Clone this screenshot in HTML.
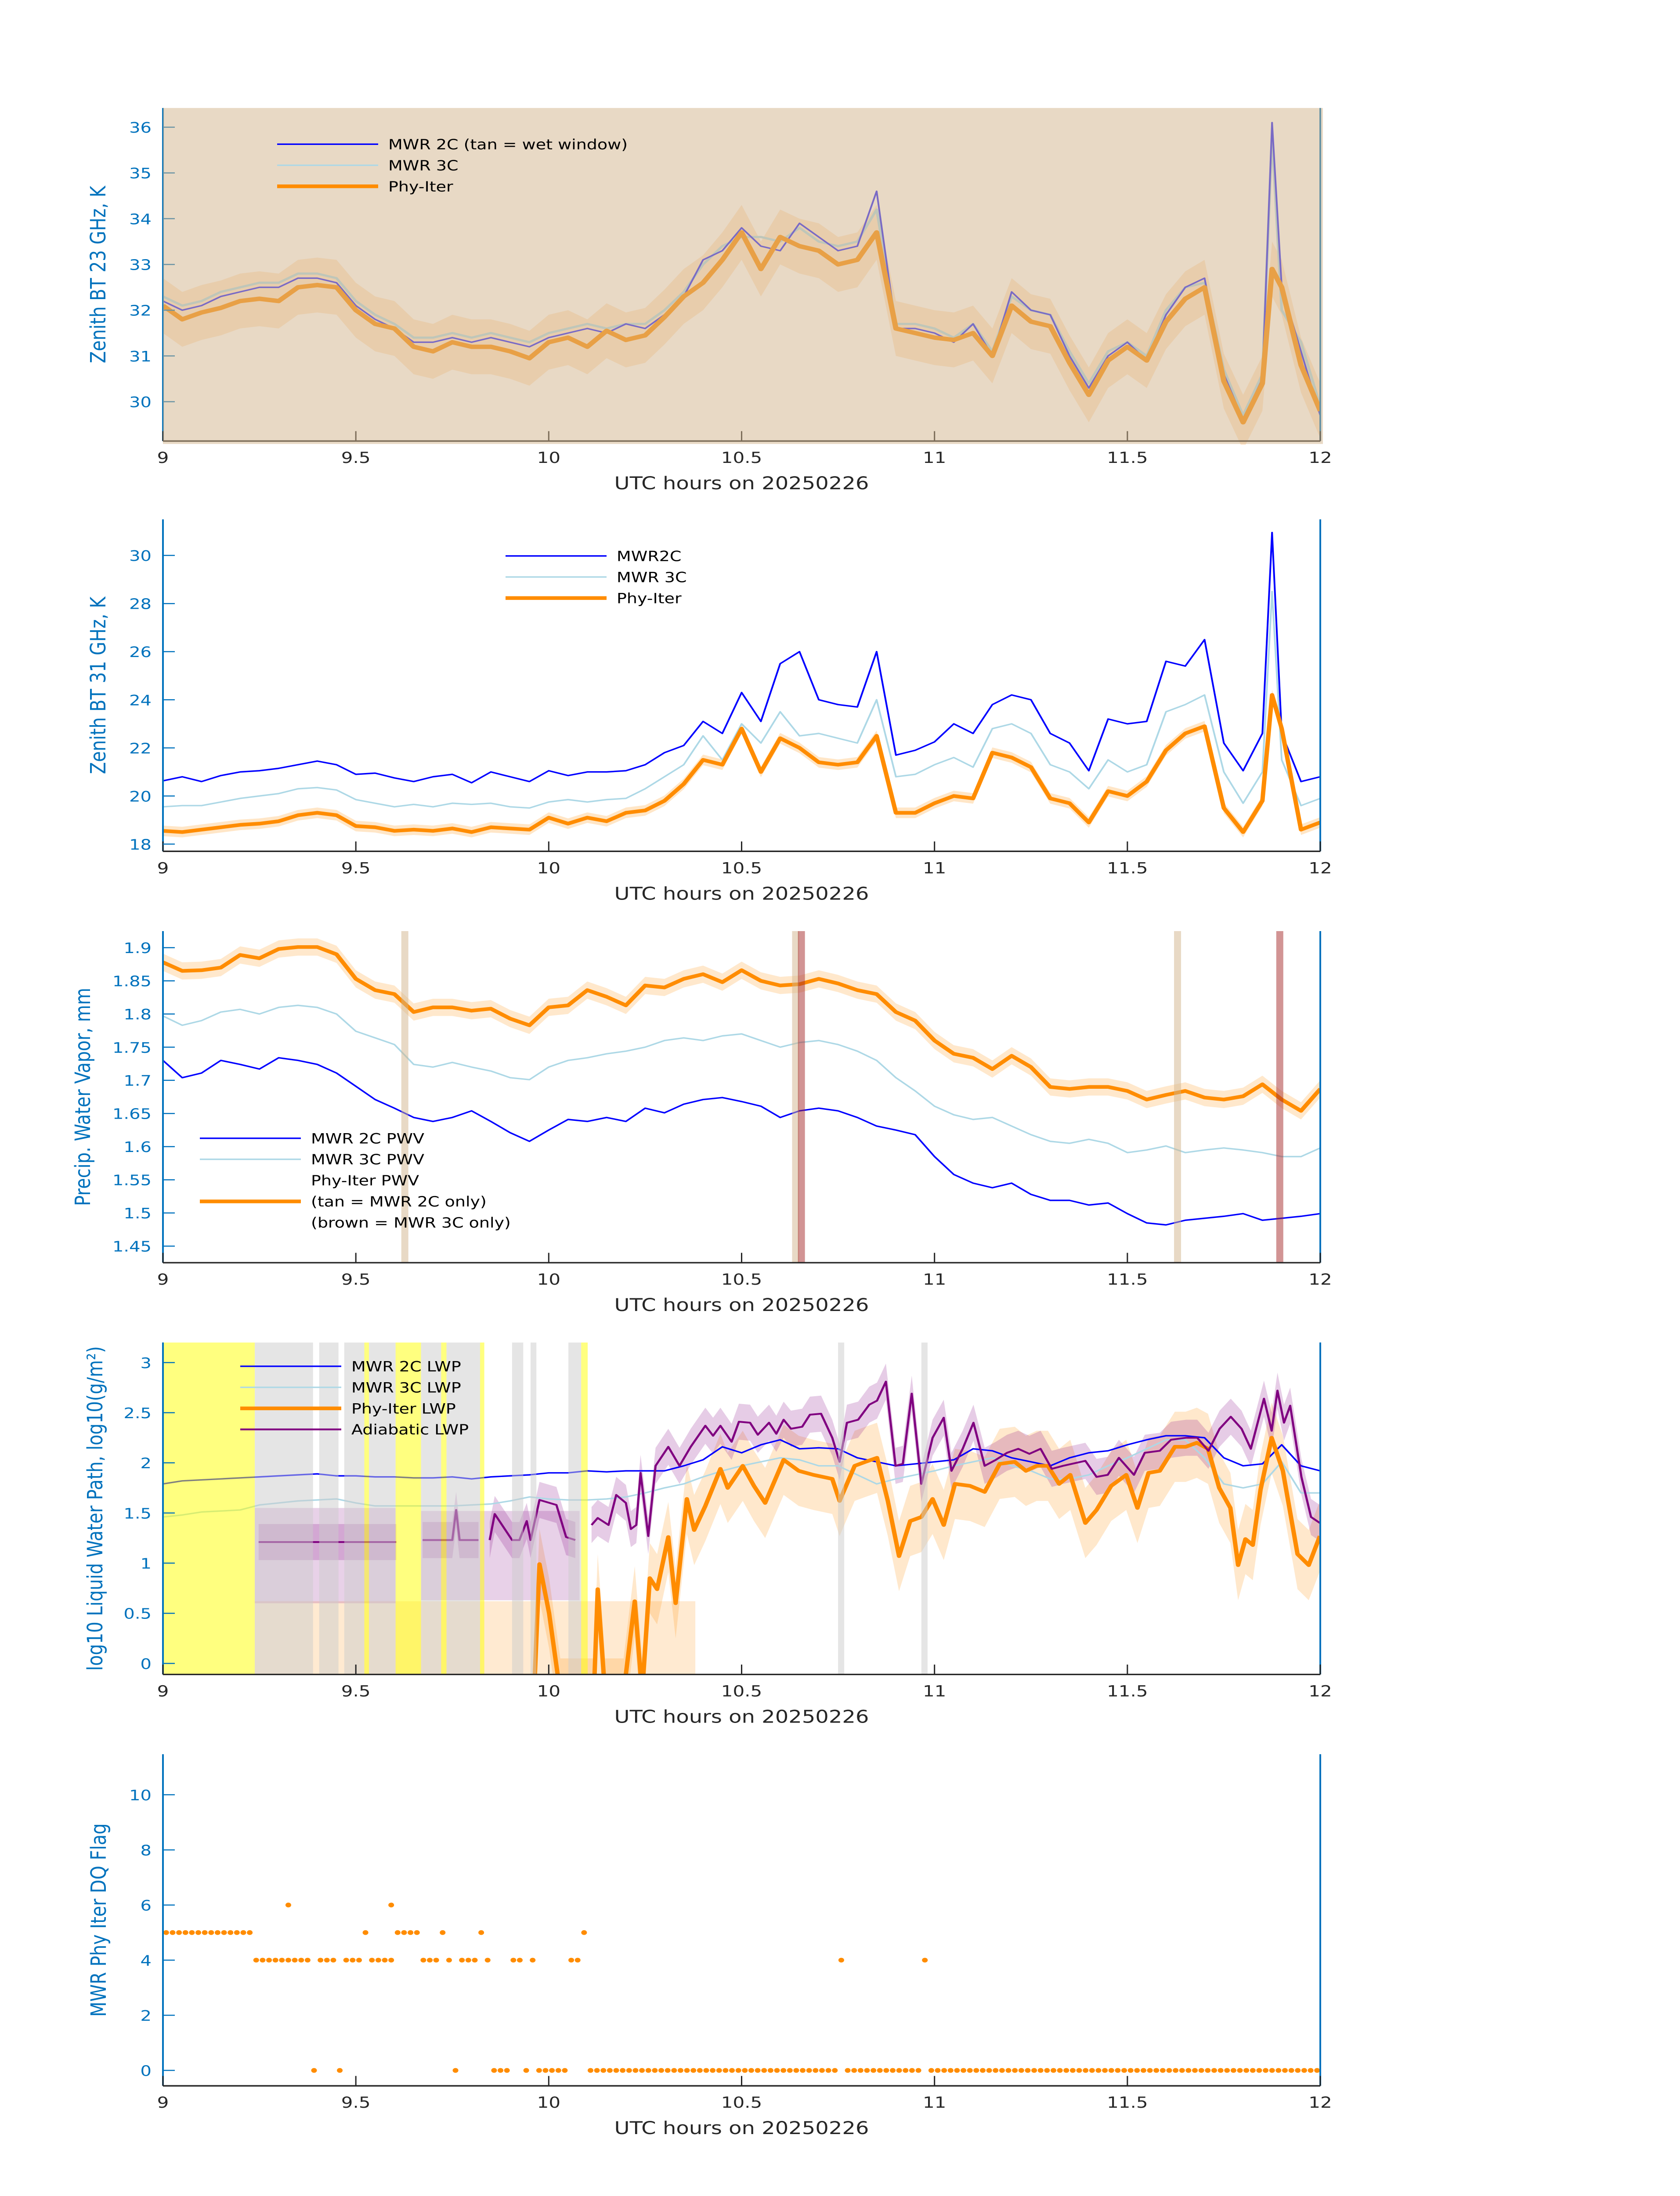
<!DOCTYPE html>
<html><head><meta charset="utf-8"><title>MWR retrieval time series 20250226</title>
<style>html,body{margin:0;padding:0;background:#fff;width:100%;height:100%;overflow:hidden}svg{display:block;width:100vw;height:100vh}text{font-family:"DejaVu Sans","Liberation Sans",sans-serif}</style>
</head><body>
<svg id="chart" xmlns="http://www.w3.org/2000/svg" viewBox="0 0 3825 6000" preserveAspectRatio="none">
<rect x="0" y="0" width="3825" height="6000" fill="#ffffff"/>
</svg>
<script>
// ---------- data ----------
const xTickVals = [9, 9.5, 10, 10.5, 11, 11.5, 12];
const xTickLabels = ["9", "9.5", "10", "10.5", "11", "11.5", "12"];

const hoursA = [9,9.05,9.1,9.15,9.2,9.25,9.3,9.35,9.4,9.45,9.5,9.55,9.6,9.65,9.7,9.75,9.8,9.85,9.9,9.95,10,10.05,10.1,10.15,10.2,10.25,10.3,10.35,10.4,10.45,10.5,10.55,10.6,10.65,10.7,10.75,10.8,10.85,10.9,10.95,11,11.05,11.1,11.15,11.2,11.25,11.3,11.35,11.4,11.45,11.5,11.55,11.6,11.65,11.7,11.75,11.8,11.85,11.875,11.9,11.95,12];
const hoursB = [9,9.05,9.1,9.15,9.2,9.25,9.3,9.35,9.4,9.45,9.5,9.55,9.6,9.65,9.7,9.75,9.8,9.85,9.9,9.95,10,10.05,10.1,10.15,10.2,10.25,10.3,10.35,10.4,10.45,10.5,10.55,10.6,10.65,10.7,10.75,10.8,10.85,10.9,10.95,11,11.05,11.1,11.15,11.2,11.25,11.3,11.35,11.4,11.45,11.5,11.55,11.6,11.65,11.7,11.75,11.8,11.85,11.9,11.95,12];

// panel 1: 23 GHz
const bt23_2c = [32.2,32.0,32.1,32.3,32.4,32.5,32.5,32.7,32.7,32.6,32.1,31.8,31.6,31.3,31.3,31.4,31.3,31.4,31.3,31.2,31.4,31.5,31.6,31.5,31.7,31.6,31.9,32.3,33.1,33.3,33.8,33.4,33.3,33.9,33.6,33.3,33.4,34.6,31.6,31.6,31.5,31.3,31.7,31.0,32.4,32.0,31.9,31.0,30.3,31.0,31.3,30.9,31.9,32.5,32.7,30.6,29.6,30.5,36.1,32.5,31.1,29.7];
const bt23_3c = [32.3,32.1,32.2,32.4,32.5,32.6,32.6,32.8,32.8,32.7,32.2,31.9,31.7,31.4,31.4,31.5,31.4,31.5,31.4,31.3,31.5,31.6,31.7,31.6,31.7,31.7,32.0,32.4,33.0,33.4,33.6,33.6,33.5,33.8,33.5,33.4,33.5,34.2,31.7,31.7,31.6,31.4,31.7,31.1,32.3,32.0,31.9,31.1,30.4,31.1,31.3,31.0,32.0,32.5,32.6,30.7,29.7,30.6,35.8,32.0,31.3,29.9];
const bt23_phy = [32.1,31.8,31.95,32.05,32.2,32.25,32.2,32.5,32.55,32.5,32.0,31.7,31.6,31.2,31.1,31.3,31.2,31.2,31.1,30.95,31.3,31.4,31.2,31.55,31.35,31.45,31.85,32.3,32.6,33.1,33.7,32.9,33.6,33.4,33.3,33.0,33.1,33.7,31.6,31.5,31.4,31.35,31.5,31.0,32.1,31.75,31.65,30.85,30.15,30.9,31.2,30.9,31.75,32.25,32.5,30.45,29.55,30.4,32.9,32.5,30.8,29.8];
const bt23_unc = 0.6;
const bt23_ticks = [30,31,32,33,34,35,36];

// panel 2: 31 GHz
const bt31_2c = [20.63,20.8,20.6,20.85,21.0,21.05,21.15,21.3,21.45,21.3,20.9,20.95,20.75,20.6,20.8,20.9,20.55,21.0,20.8,20.6,21.05,20.85,21.0,21.0,21.05,21.3,21.8,22.1,23.1,22.6,24.3,23.1,25.5,26.0,24.0,23.8,23.7,26.0,21.7,21.9,22.25,23.0,22.6,23.8,24.2,24.0,22.6,22.2,21.05,23.2,23.0,23.1,25.6,25.4,26.5,22.2,21.05,22.6,30.95,22.6,20.6,20.8];
const bt31_3c = [19.55,19.6,19.6,19.75,19.9,20.0,20.1,20.3,20.35,20.25,19.85,19.7,19.55,19.65,19.55,19.7,19.65,19.7,19.55,19.5,19.75,19.85,19.75,19.85,19.9,20.3,20.8,21.3,22.5,21.5,23.0,22.2,23.5,22.5,22.6,22.4,22.2,24.0,20.8,20.9,21.3,21.6,21.2,22.8,23.0,22.6,21.3,21.0,20.3,21.5,21.0,21.3,23.5,23.8,24.2,21.0,19.7,21.0,28.5,21.5,19.6,19.9];
const bt31_phy = [18.55,18.5,18.6,18.7,18.8,18.85,18.95,19.2,19.3,19.2,18.75,18.7,18.55,18.6,18.55,18.65,18.5,18.7,18.65,18.6,19.1,18.85,19.1,18.95,19.3,19.4,19.8,20.5,21.5,21.3,22.8,21.0,22.4,22.0,21.4,21.3,21.4,22.5,19.3,19.3,19.7,20.0,19.9,21.8,21.6,21.2,19.9,19.7,18.9,20.2,20.0,20.6,21.9,22.6,22.9,19.5,18.5,19.8,24.2,22.8,18.6,18.9];
const bt31_unc = 0.22;
const bt31_ticks = [18,20,22,24,26,28,30];

// panel 3: PWV
const pwv_phy = [1.878,1.865,1.866,1.87,1.889,1.884,1.898,1.901,1.901,1.89,1.853,1.836,1.83,1.803,1.81,1.81,1.805,1.808,1.793,1.783,1.81,1.813,1.836,1.826,1.813,1.843,1.84,1.853,1.86,1.848,1.866,1.85,1.843,1.845,1.853,1.846,1.836,1.83,1.803,1.79,1.76,1.74,1.734,1.717,1.737,1.72,1.69,1.687,1.69,1.69,1.684,1.671,1.678,1.684,1.674,1.671,1.676,1.694,1.671,1.654,1.687];
const pwv_3c = [1.797,1.783,1.79,1.803,1.807,1.8,1.81,1.813,1.81,1.8,1.774,1.764,1.754,1.724,1.72,1.727,1.72,1.714,1.704,1.701,1.72,1.73,1.734,1.74,1.744,1.75,1.76,1.764,1.76,1.767,1.77,1.76,1.75,1.757,1.76,1.754,1.744,1.73,1.704,1.684,1.661,1.648,1.641,1.644,1.631,1.618,1.608,1.605,1.611,1.605,1.591,1.595,1.601,1.591,1.595,1.598,1.595,1.591,1.585,1.585,1.598];
const pwv_2c = [1.73,1.704,1.711,1.73,1.724,1.717,1.734,1.73,1.724,1.711,1.691,1.671,1.658,1.644,1.638,1.644,1.654,1.638,1.621,1.608,1.625,1.641,1.638,1.644,1.638,1.658,1.651,1.664,1.671,1.674,1.668,1.661,1.644,1.654,1.658,1.654,1.644,1.631,1.625,1.618,1.585,1.558,1.545,1.538,1.545,1.528,1.519,1.519,1.512,1.515,1.499,1.485,1.482,1.489,1.492,1.495,1.499,1.489,1.492,1.495,1.499];
const pwv_unc = 0.013;
const pwv_ticks = [1.45,1.5,1.55,1.6,1.65,1.7,1.75,1.8,1.85,1.9];
const pwv_tickLabels = ["1.45","1.5","1.55","1.6","1.65","1.7","1.75","1.8","1.85","1.9"];
const tanOnlyHours = [9.627, 10.640, 11.630];
const brownOnlyHours = [10.655, 11.895];

// panel 4: LWP
const lwp_2c = [1.79,1.82,1.83,1.84,1.85,1.86,1.87,1.88,1.89,1.87,1.87,1.86,1.86,1.85,1.85,1.86,1.84,1.86,1.87,1.88,1.9,1.9,1.92,1.91,1.92,1.92,1.92,1.97,2.03,2.16,2.1,2.18,2.23,2.14,2.15,2.14,2.05,2.01,1.97,1.99,2.01,2.03,2.14,2.12,2.05,2.01,1.97,2.05,2.1,2.12,2.18,2.23,2.27,2.27,2.25,2.05,1.97,1.99,2.18,1.97,1.92];
const lwp_3c = [1.46,1.48,1.51,1.52,1.53,1.58,1.60,1.62,1.63,1.64,1.60,1.57,1.57,1.57,1.57,1.57,1.58,1.59,1.62,1.66,1.64,1.63,1.63,1.64,1.66,1.70,1.75,1.79,1.86,1.92,1.97,2.01,2.05,2.03,1.97,1.97,1.88,1.79,1.84,1.88,1.92,1.97,2.01,2.05,1.97,1.92,1.84,1.84,1.88,1.97,2.05,2.14,2.23,2.23,2.05,1.79,1.75,1.79,2.01,1.70,1.70];
const lwpPhyHours = [9.962,9.976,10.001,10.030,10.117,10.127,10.146,10.194,10.223,10.242,10.262,10.281,10.310,10.329,10.358,10.377,10.406,10.445,10.464,10.503,10.532,10.561,10.609,10.648,10.686,10.735,10.754,10.793,10.821,10.851,10.879,10.908,10.937,10.966,10.995,11.024,11.053,11.092,11.130,11.169,11.208,11.237,11.265,11.294,11.323,11.352,11.391,11.420,11.458,11.497,11.526,11.555,11.584,11.623,11.651,11.680,11.709,11.738,11.767,11.787,11.806,11.825,11.845,11.874,11.903,11.941,11.970,11.999];
const lwpPhy = [-0.3,0.99,0.5,-0.3,-0.3,0.74,-0.3,-0.3,0.62,-0.3,0.85,0.74,1.26,0.6,1.64,1.33,1.57,1.94,1.75,1.97,1.77,1.60,2.03,1.92,1.88,1.84,1.62,1.97,2.01,2.05,1.62,1.07,1.42,1.46,1.64,1.38,1.79,1.77,1.71,1.99,2.01,1.92,1.97,1.97,1.79,1.88,1.40,1.53,1.77,1.88,1.55,1.90,1.92,2.16,2.16,2.20,2.14,1.75,1.55,0.98,1.24,1.18,1.73,2.25,1.92,1.09,0.98,1.27];
const lwpPhy_unc = 0.35;
const adiHours = [9.248,9.605,9.64,9.673,9.750,9.760,9.769,9.818,9.83,9.847,9.860,9.905,9.924,9.943,9.953,9.976,10.020,10.045,10.069,10.09,10.111,10.127,10.155,10.175,10.200,10.213,10.227,10.238,10.258,10.277,10.310,10.339,10.368,10.406,10.426,10.445,10.474,10.493,10.522,10.542,10.571,10.590,10.609,10.628,10.657,10.677,10.706,10.735,10.754,10.773,10.802,10.831,10.851,10.874,10.899,10.918,10.941,10.966,10.995,11.024,11.044,11.073,11.101,11.130,11.159,11.188,11.217,11.246,11.275,11.304,11.333,11.391,11.420,11.449,11.478,11.517,11.545,11.584,11.613,11.652,11.681,11.710,11.739,11.768,11.796,11.820,11.854,11.874,11.889,11.906,11.922,11.951,11.976,11.999];
const adiLwp = [1.21,1.21,null,1.23,1.23,1.53,1.23,1.23,null,1.23,1.49,1.23,1.23,1.42,1.23,1.63,1.58,1.26,1.23,null,1.38,1.45,1.38,1.68,1.60,1.34,1.38,1.90,1.27,1.97,2.16,1.97,2.16,2.37,2.27,2.37,2.21,2.41,2.40,2.28,2.40,2.29,2.43,2.34,2.36,2.48,2.49,2.25,2.01,2.40,2.43,2.58,2.62,2.81,1.97,1.99,2.69,1.79,2.25,2.45,1.92,2.14,2.40,1.97,2.03,2.10,2.14,2.09,2.14,1.94,1.97,2.02,1.86,1.88,2.05,1.88,2.10,2.12,2.23,2.25,2.25,2.12,2.34,2.46,2.34,2.14,2.64,2.32,2.72,2.40,2.57,1.86,1.46,1.40];
const adi_unc = 0.18;
const adiBlockStart = [9.238, 9.669];
const adiBlockEnd = [9.603, 10.08];
const adiBlockLow = [0.60, 0.63];
const adiBlockHigh = [1.55, 1.52];
const phyFillStart = [9.238];
const phyFillEnd = [10.38];
const phyFillHigh = [0.62];
const yellowStart = [9.0, 9.522, 9.603, 9.721, 9.822, 10.084];
const yellowEnd = [9.238, 9.534, 9.669, 9.735, 9.833, 10.101];
const grayStart = [9.238, 9.405, 9.470, 9.534, 9.669, 9.735, 9.905, 9.953, 10.051, 10.750, 10.966];
const grayEnd = [9.389, 9.455, 9.522, 9.603, 9.721, 9.822, 9.934, 9.968, 10.084, 10.766, 10.982];
const lwp_ticks = [0,0.5,1,1.5,2,2.5,3];
const lwp_tickLabels = ["0","0.5","1","1.5","2","2.5","3"];

// panel 5: DQ flag, one value per minute after 09:00
const dqFlag = [5,5,5,5,5,5,5,5,5,5,5,5,5,5,4,4,4,4,4,4,4,4,4,0,4,4,4,0,4,4,4,5,4,4,4,4,5,5,5,5,4,4,4,5,4,0,4,4,4,5,4,0,0,0,4,4,0,4,0,0,0,0,0,4,4,5,
0,0,0,0,0,0,0,0,0,0,0,0,0,0,0,0,0,0,0,0,0,0,0,0,0,0,0,0,0,0,0,0,0,0,0,0,0,0,0,4,
0,0,0,0,0,0,0,0,0,0,0,0,4,
0,0,0,0,0,0,0,0,0,0,0,0,0,0,0,0,0,0,0,0,0,0,0,0,0,0,0,0,0,0,0,0,0,0,0,0,0,0,0,0,0,0,0,0,0,0,0,0,0,0,0,0,0,0,0,0,0,0,0,0,0];
const dqExtraMinute = [19, 35];
const dqExtraFlag = [6, 6];
const dq_ticks = [0,2,4,6,8,10];

// ---------- drawing ----------
const NS = "http://www.w3.org/2000/svg";
const svg = document.getElementById('chart');
const X0 = 371, X1 = 3006;
function sx(h){ return X0 + (h - 9) * (X1 - X0) / 3; }
function mkY(top, bot, vmin, vmax){ return v => bot - (v - vmin) / (vmax - vmin) * (bot - top); }
function mk(tag, attrs, parent){
  const e = document.createElementNS(NS, tag);
  for (const k in attrs) e.setAttribute(k, attrs[k]);
  parent.appendChild(e);
  return e;
}
function ok(v){ return v !== null && v !== undefined && !isNaN(v); }
function linePath(ts, vs, sy){
  let d = "", pen = false;
  for (let i = 0; i < ts.length; i++){
    if (!ok(vs[i])) { pen = false; continue; }
    d += (pen ? "L" : "M") + sx(ts[i]).toFixed(1) + "," + sy(vs[i]).toFixed(1);
    pen = true;
  }
  return d;
}
function bandPath(ts, vs, hw, sy){
  let d = "", seg = [];
  const flush = () => {
    if (seg.length > 1){
      let s = "M";
      seg.forEach((i, k) => { s += (k ? "L" : "") + sx(ts[i]).toFixed(1) + "," + sy(vs[i] + hw).toFixed(1); });
      for (let k = seg.length - 1; k >= 0; k--){ const i = seg[k]; s += "L" + sx(ts[i]).toFixed(1) + "," + sy(vs[i] - hw).toFixed(1); }
      d += s + "Z";
    }
    seg = [];
  };
  for (let i = 0; i < ts.length; i++){ if (ok(vs[i])) seg.push(i); else flush(); }
  flush();
  return d;
}
function clipFor(id, top, bot){
  let defs = svg.querySelector('defs');
  if (!defs){ defs = mk('defs', {}, svg); }
  const cp = mk('clipPath', {id: id}, defs);
  mk('rect', {x: X0, y: top, width: X1 - X0 + 2, height: bot - top}, cp);
}
function drawAxes(g, P, sy, ticks, labels, axisColor, tickColor, yLabel, ylx){
  const ax = mk('g', {}, g);
  
  
  const left = mk('line', {x1: X0, y1: P.top, x2: X0, y2: P.bot, stroke: axisColor, 'stroke-width': 4}, ax);
  
  
  const right = mk('line', {x1: X1, y1: P.top, x2: X1, y2: P.bot, stroke: axisColor, 'stroke-width': 4}, ax);
  
  
  const bottom = mk('line', {x1: X0, y1: P.bot, x2: X1, y2: P.bot, stroke: P.xAxisColor, 'stroke-width': 4}, ax);
  
  
  xTickVals.forEach((h, i) => {
    const t = mk('line', {x1: sx(h), y1: P.bot, x2: sx(h), y2: P.bot - 27, stroke: P.xAxisColor, 'stroke-width': 3}, ax);
    
    
    const tl = mk('text', {x: sx(h), y: P.bot + 60, 'font-size': 42, fill: '#262626', 'text-anchor': 'middle'}, ax);
    tl.textContent = xTickLabels[i];
    
    
  });
  ticks.forEach((v, i) => {
    const t = mk('line', {x1: X0, y1: sy(v), x2: X0 + 27, y2: sy(v), stroke: axisColor, 'stroke-width': 3}, ax);
    
    
    const tl = mk('text', {x: 345, y: sy(v) + 15, 'font-size': 40, fill: tickColor, 'text-anchor': 'end'}, ax);
    tl.textContent = labels[i];
    
    
  });
  const xl = mk('text', {x: (X0 + X1) / 2, y: P.bot + 132, 'font-size': 48, fill: '#262626', 'text-anchor': 'middle'}, ax);
  xl.textContent = 'UTC hours on 20250226';
  
  
  const cy = (P.top + P.bot) / 2;
  const yl = mk('text', {x: ylx, y: cy, 'font-size': 48, fill: tickColor, 'text-anchor': 'middle', transform: 'rotate(-90 ' + ylx + ' ' + cy + ')'}, ax);
  yl.textContent = yLabel;
  
  
}
function legend(g, x, y0, items){
  const lg = mk('g', {}, g);
  
  
  items.forEach((it, i) => {
    const y = y0 + i * 57.5;
    if (it.color){
      const l = mk('line', {x1: x, y1: y, x2: x + 230, y2: y, stroke: it.color, 'stroke-width': it.w}, lg);
      
      
    }
    const t = mk('text', {x: x + 253, y: y + 14, 'font-size': 38, fill: '#000'}, lg);
    t.textContent = it.label;
    
    
  });
}
function series(parent, name, ts, vs, sy, color, w, op){
  const p = mk('path', {d: linePath(ts, vs, sy), fill: 'none', stroke: color, 'stroke-width': w, 'stroke-linejoin': 'round', opacity: op || 1}, parent);
  
  
  return p;
}
function band(parent, name, ts, vs, hw, sy, color, op){
  const p = mk('path', {d: bandPath(ts, vs, hw, sy), fill: color, opacity: op, stroke: 'none'}, parent);
  
  
  return p;
}

// ===== Panel 1 =====
(function(){
  const P = {name: 'bt23-panel', top: 295, bot: 1205, xAxisColor: '#262626'};
  const sy = mkY(P.top, P.bot, 29.14, 36.42);
  const g = mk('g', {}, svg);
  
  
  clipFor('c1', P.top, P.bot + 10);
  const data = mk('g', {'clip-path': 'url(#c1)'}, g);
  
  
  band(data, 'bt23-phy-uncertainty', hoursA, bt23_phy, bt23_unc, sy, '#FFB870', 0.35);
  series(data, 'bt23-mwr3c-line', hoursA, bt23_3c, sy, '#ADD8E6', 6);
  series(data, 'bt23-mwr2c-line', hoursA, bt23_2c, sy, '#2020FF', 4);
  series(data, 'bt23-phy-line', hoursA, bt23_phy, sy, '#FF8C00', 12);
  drawAxes(g, P, sy, bt23_ticks, bt23_ticks.map(String), '#0072BD', '#0072BD', 'Zenith BT 23 GHz, K', 240);
  const ov = mk('rect', {x: X0, y: P.top, width: X1 - X0 + 6, height: P.bot - P.top + 8, fill: '#D2B48C', opacity: 0.5}, g);
  
  
  legend(g, 631, 394, [{label: 'MWR 2C (tan = wet window)', color: '#0000FF', w: 4}, {label: 'MWR 3C', color: '#ADD8E6', w: 4}, {label: 'Phy-Iter', color: '#FF8C00', w: 10}]);
})();

// ===== Panel 2 =====
(function(){
  const P = {name: 'bt31-panel', top: 1419, bot: 2326, xAxisColor: '#262626'};
  const sy = mkY(P.top, P.bot, 17.7, 31.5);
  const g = mk('g', {}, svg);
  
  
  clipFor('c2', P.top, P.bot);
  const data = mk('g', {'clip-path': 'url(#c2)'}, g);
  
  
  band(data, 'bt31-phy-uncertainty', hoursA, bt31_phy, bt31_unc, sy, '#FF8C00', 0.22);
  series(data, 'bt31-mwr2c-line', hoursA, bt31_2c, sy, '#0000FF', 4);
  series(data, 'bt31-mwr3c-line', hoursA, bt31_3c, sy, '#ADD8E6', 4);
  series(data, 'bt31-phy-line', hoursA, bt31_phy, sy, '#FF8C00', 10);
  drawAxes(g, P, sy, bt31_ticks, bt31_ticks.map(String), '#0072BD', '#0072BD', 'Zenith BT 31 GHz, K', 240);
  legend(g, 1151, 1519, [{label: 'MWR2C', color: '#0000FF', w: 4}, {label: 'MWR 3C', color: '#ADD8E6', w: 4}, {label: 'Phy-Iter', color: '#FF8C00', w: 10}]);
})();

// ===== Panel 3 =====
(function(){
  const P = {name: 'pwv-panel', top: 2544, bot: 3450, xAxisColor: '#262626'};
  const sy = mkY(P.top, P.bot, 1.425, 1.925);
  const g = mk('g', {}, svg);
  
  
  clipFor('c3', P.top, P.bot);
  const data = mk('g', {'clip-path': 'url(#c3)'}, g);
  
  
  band(data, 'pwv-phy-uncertainty', hoursB, pwv_phy, pwv_unc, sy, '#FF8C00', 0.2);
  series(data, 'pwv-mwr2c-line', hoursB, pwv_2c, sy, '#0000FF', 4);
  series(data, 'pwv-mwr3c-line', hoursB, pwv_3c, sy, '#ADD8E6', 4);
  series(data, 'pwv-phy-line', hoursB, pwv_phy, sy, '#FF8C00', 10);
  tanOnlyHours.forEach(h => {
    const r = mk('rect', {x: sx(h) - 8, y: P.top, width: 16, height: P.bot - P.top, fill: '#D2B48C', opacity: 0.5}, data);
    
    
  });
  brownOnlyHours.forEach(h => {
    const r = mk('rect', {x: sx(h) - 8, y: P.top, width: 16, height: P.bot - P.top, fill: '#A52A2A', opacity: 0.5}, data);
    
    
  });
  drawAxes(g, P, sy, pwv_ticks, pwv_tickLabels, '#0072BD', '#0072BD', 'Precip. Water Vapor, mm', 205);
  legend(g, 455, 3110, [{label: 'MWR 2C PWV', color: '#0000FF', w: 4}, {label: 'MWR 3C PWV', color: '#ADD8E6', w: 4}, {label: 'Phy-Iter PWV'}, {label: '(tan = MWR 2C only)', color: '#FF8C00', w: 10}, {label: '(brown = MWR 3C only)'}]);
})();

// ===== Panel 4 =====
(function(){
  const P = {name: 'lwp-panel', top: 3668, bot: 4575, xAxisColor: '#262626'};
  const sy = mkY(P.top, P.bot, -0.11, 3.2);
  const g = mk('g', {}, svg);
  
  
  clipFor('c4', P.top, P.bot);
  const data = mk('g', {'clip-path': 'url(#c4)'}, g);
  
  
  phyFillStart.forEach((h, i) => {
    const r = mk('rect', {x: sx(h), y: sy(phyFillHigh[i]), width: sx(phyFillEnd[i]) - sx(h), height: P.bot - sy(phyFillHigh[i]), fill: '#FF8C00', opacity: 0.18}, data);
    
    
  });
  band(data, 'phy-lwp-uncertainty', lwpPhyHours, lwpPhy, lwpPhy_unc, sy, '#FF8C00', 0.2);
  adiBlockStart.forEach((h, i) => {
    const r = mk('rect', {x: sx(h), y: sy(adiBlockHigh[i]), width: sx(adiBlockEnd[i]) - sx(h), height: sy(adiBlockLow[i]) - sy(adiBlockHigh[i]), fill: '#800080', opacity: 0.18}, data);
    
    
  });
  band(data, 'adiabatic-uncertainty', adiHours, adiLwp, adi_unc, sy, '#800080', 0.2);
  series(data, 'lwp-mwr2c-line', hoursB, lwp_2c, sy, '#0000FF', 4);
  series(data, 'lwp-mwr3c-line', hoursB, lwp_3c, sy, '#ADD8E6', 4);
  series(data, 'phy-lwp-line', lwpPhyHours, lwpPhy, sy, '#FF8C00', 10);
  series(data, 'adiabatic-lwp-line', adiHours, adiLwp, sy, '#800080', 5);
  yellowStart.forEach((h, i) => {
    const r = mk('rect', {x: sx(h), y: P.top, width: sx(yellowEnd[i]) - sx(h), height: P.bot - P.top, fill: '#FFFF00', opacity: 0.5}, data);
    
    
  });
  grayStart.forEach((h, i) => {
    const r = mk('rect', {x: sx(h), y: P.top, width: sx(grayEnd[i]) - sx(h), height: P.bot - P.top, fill: '#CCCCCC', opacity: 0.5}, data);
    
    
  });
  drawAxes(g, P, sy, lwp_ticks, lwp_tickLabels, '#0072BD', '#0072BD', 'log10 Liquid Water Path, log10(g/m²)', 233);
  legend(g, 547, 3733, [{label: 'MWR 2C LWP', color: '#0000FF', w: 4}, {label: 'MWR 3C LWP', color: '#ADD8E6', w: 4}, {label: 'Phy-Iter LWP', color: '#FF8C00', w: 10}, {label: 'Adiabatic LWP', color: '#800080', w: 5}]);
})();

// ===== Panel 5 =====
(function(){
  const P = {name: 'dq-panel', top: 4793, bot: 5699, xAxisColor: '#262626'};
  const sy = mkY(P.top, P.bot, -0.56, 11.47);
  const g = mk('g', {}, svg);
  
  
  const data = mk('g', {}, g);
  
  
  dqFlag.forEach((v, m) => {
    const c = mk('circle', {cx: sx(9 + (m + 0.5) / 60), cy: sy(v), r: 6.5, fill: '#FF8C00'}, data);
    
    
  });
  dqExtraMinute.forEach((m, i) => {
    const c = mk('circle', {cx: sx(9 + (m + 0.5) / 60), cy: sy(dqExtraFlag[i]), r: 6.5, fill: '#FF8C00'}, data);
    
    
  });
  drawAxes(g, P, sy, dq_ticks, dq_ticks.map(String), '#0072BD', '#0072BD', 'MWR Phy Iter DQ Flag', 241);
})();
</script>
</body></html>
